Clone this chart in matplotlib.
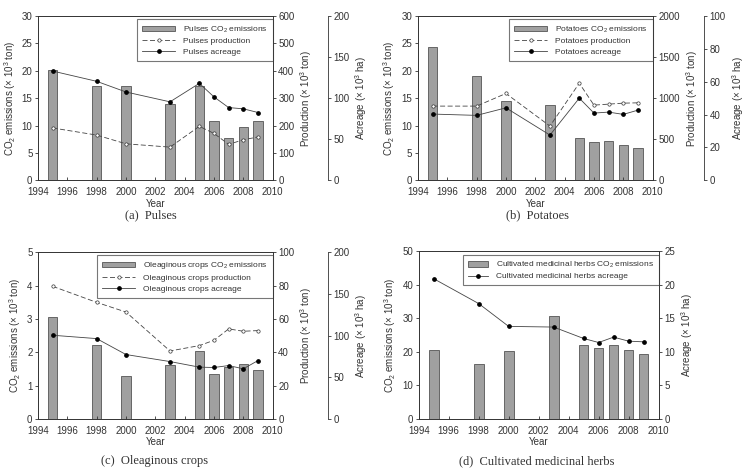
import numpy as np
import matplotlib.pyplot as plt

plt.rcParams['font.family'] = ['Liberation Sans', 'DejaVu Sans']
plt.rcParams['mathtext.default'] = 'regular'
plt.rcParams['font.size'] = 6.5

years = [1995, 1998, 2000, 2003, 2005, 2006, 2007, 2008, 2009]

pulses_co2 = [20.1, 17.2, 17.3, 14.0, 17.2, 10.9, 7.8, 9.8, 10.9]
pulses_prod = [191, 165, 133, 121, 197, 171, 131, 148, 158]
pulses_acre = [133, 120.5, 107.5, 95.5, 118, 101.5, 88.5, 87, 82.5]

potato_co2 = [24.3, 19.0, 14.4, 13.7, 7.8, 6.9, 7.1, 6.4, 5.8]
potato_prod = [903, 903, 1057, 660, 1182, 915, 927, 939, 943]
potato_acre = [40.3, 39.5, 44.1, 27.5, 50.0, 40.9, 41.5, 40.1, 42.7]

oil_co2 = [3.07, 2.23, 1.30, 1.63, 2.05, 1.35, 1.56, 1.66, 1.48]
oil_prod = [79.5, 69.9, 64.1, 40.8, 44.0, 47.2, 54.0, 52.6, 53.0]
oil_acre = [100.4, 96.4, 77.3, 68.9, 62.2, 61.8, 64.1, 60.2, 70.1]

herb_co2 = [20.5, 16.4, 20.3, 30.7, 22.1, 21.1, 22.0, 20.5, 19.5]
herb_acre = [20.9, 17.2, 13.8, 13.7, 12.0, 11.4, 12.2, 11.6, 11.5]

gray_txt = '#333333'
bar_col = '#a0a0a0'
line_col = '#444444'


def style_axis(ax):
    ax.tick_params(axis='both', labelsize=7, colors=gray_txt, length=2, width=0.6, pad=2)
    ax.tick_params(axis='x', direction='in', pad=5)
    for s in ax.spines.values():
        s.set_linewidth(0.6)
        s.set_color('#333333')


def panel(rect, name, co2, co2_step, co2_max, prod, prod_step, prod_max, acre, acre_step,
          acre_max, offset, caption, cap_xy, hlen):
    ax = fig.add_axes(rect)
    b = ax.bar(years, co2, width=0.65, color=bar_col, edgecolor='#555555', linewidth=0.6,
               label=name + ' CO$_2$ emissions')
    ax.set_xlim(1994, 2010)
    ax.set_xticks(range(1994, 2011, 2))
    ax.set_ylim(0, co2_max)
    ax.set_yticks(np.arange(0, co2_max + co2_step / 2, co2_step))
    ax.set_ylabel('CO$_2$ emissions (× 10$^3$ ton)', fontsize=7, color=gray_txt, labelpad=3)
    ax.set_xlabel('Year', fontsize=7, color=gray_txt, labelpad=1)
    style_axis(ax)
    handles = [b]

    if prod is not None:
        ax2 = ax.twinx()
        l1, = ax2.plot(years, prod, color=line_col, lw=0.6, dashes=(6, 3), marker='o', ms=2.4,
                       mfc='white', mec='#333333', mew=0.5, label=name + ' production')
        ax2.set_ylim(0, prod_max)
        ax2.set_yticks(np.arange(0, prod_max + prod_step / 2, prod_step))
        ax2.set_ylabel('Production (× 10$^3$ ton)', fontsize=7, color=gray_txt, labelpad=3)
        style_axis(ax2)
        handles.append(l1)
        ax3 = ax.twinx()
        ax3.spines['right'].set_position(('axes', offset))
        for s in ['top', 'left', 'bottom']:
            ax3.spines[s].set_visible(False)
        ax3.patch.set_visible(False)
    else:
        ax3 = ax.twinx()
    l2, = ax3.plot(years, acre, color=line_col, lw=0.6, marker='o', ms=2.4,
                   mfc='black', mec='black', label=name + ' acreage')
    ax3.set_ylim(0, acre_max)
    ax3.set_yticks(np.arange(0, acre_max + acre_step / 2, acre_step))
    ax3.set_ylabel('Acreage (× 10$^3$ ha)', fontsize=7, color=gray_txt, labelpad=3)
    style_axis(ax3)
    handles.append(l2)

    leg = ax.legend(handles=handles, loc='upper right', bbox_to_anchor=(1.0, 0.98),
                    fontsize=6, handlelength=hlen, handletextpad=0.9, labelspacing=0.35,
                    fancybox=False, borderpad=0.6, borderaxespad=0)
    leg.get_frame().set_edgecolor('#555555')
    leg.get_frame().set_linewidth(0.8)
    for t in leg.get_texts():
        t.set_color(gray_txt)
    fig.text(cap_xy[0], cap_xy[1], caption, ha='center', va='center', fontsize=9,
             family=['Liberation Serif', 'DejaVu Serif'], color=gray_txt)


fig = plt.figure(figsize=(7.45, 4.73), dpi=100)

panel([0.051, 0.619, 0.315, 0.347], 'Pulses', pulses_co2, 5, 30, pulses_prod, 100, 600,
      pulses_acre, 50, 200, 1.234, '(a)  Pulses', (0.202, 0.545), 4.0)
panel([0.561, 0.619, 0.315, 0.347], 'Potatoes', potato_co2, 5, 30, potato_prod, 500, 2000,
      potato_acre, 20, 100, 1.22, '(b)  Potatoes', (0.721, 0.545), 4.0)
panel([0.051, 0.114, 0.315, 0.353], 'Oleaginous crops', oil_co2, 1, 5, oil_prod, 20, 100,
      oil_acre, 50, 200, 1.234, '(c)  Oleaginous crops', (0.208, 0.025), 4.0)
panel([0.562, 0.114, 0.322, 0.355], 'Cultivated medicinal herbs', herb_co2, 10, 50, None, None,
      None, herb_acre, 5, 25, None, '(d)  Cultivated medicinal herbs', (0.720, 0.025), 2.4)

fig.savefig('out.png', dpi=100)
